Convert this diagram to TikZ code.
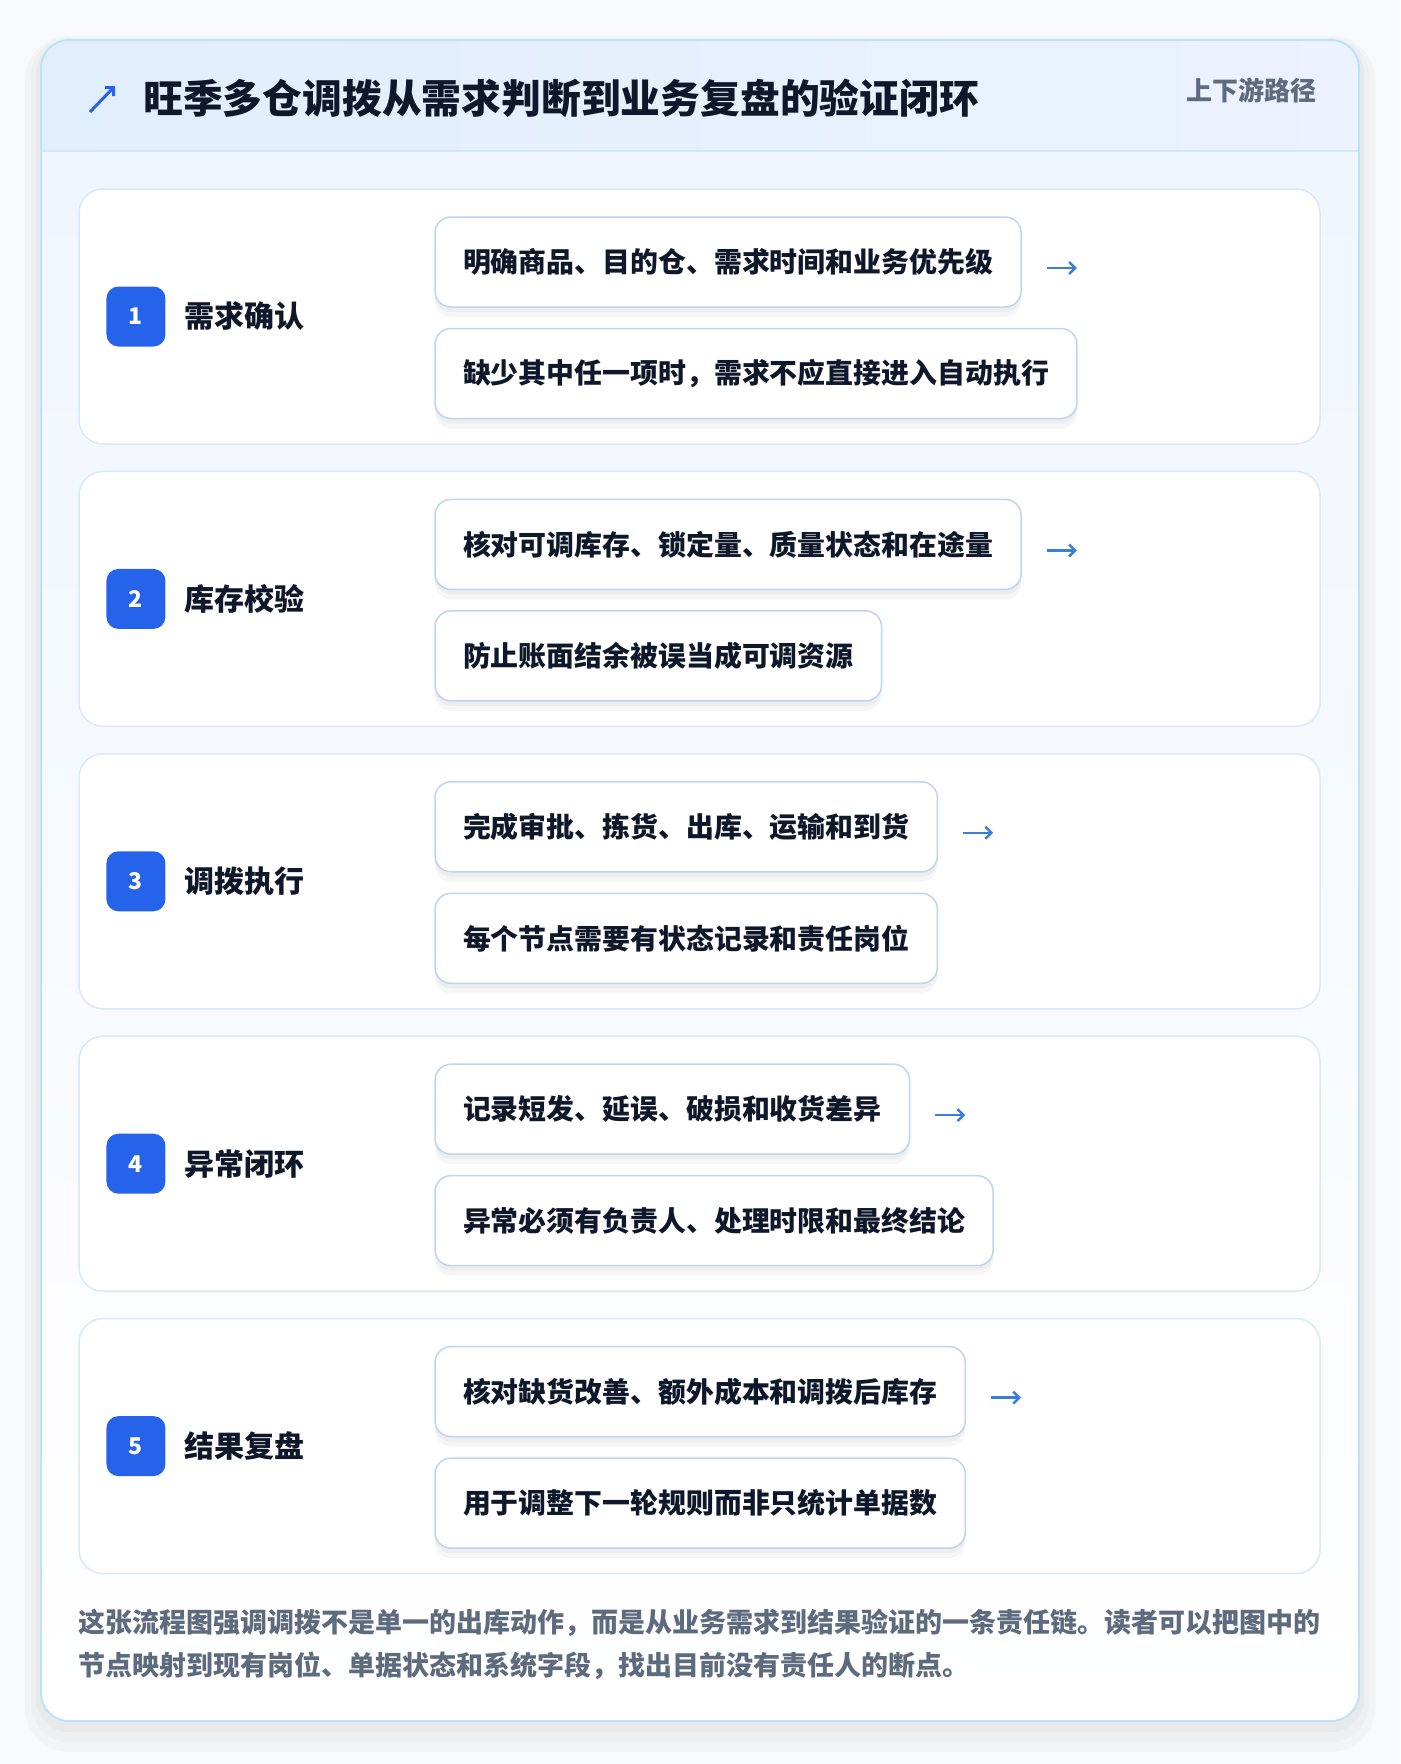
\documentclass[tikz,border=0pt]{standalone}
\usepackage{fontspec}
\setmainfont{Noto Sans CJK SC}
\usetikzlibrary{positioning,arrows.meta}

\definecolor{pagebg}{HTML}{F8F9FB}
\definecolor{cardline}{HTML}{BEE3F8}
\definecolor{headleft}{HTML}{E1EEFD}
\definecolor{headright}{HTML}{ECF2FE}
\definecolor{headline}{HTML}{D6E6FA}
\definecolor{bodytop}{HTML}{EFF6FE}
\definecolor{stageline}{HTML}{D9E8FA}
\definecolor{boxline}{HTML}{BDD5F3}
\definecolor{badgeblue}{HTML}{2563EB}
\definecolor{flowblue}{HTML}{3B7DDD}
\definecolor{ink}{HTML}{0F172A}
\definecolor{mutedink}{HTML}{5E6B7E}

\tikzset{
  stage/.style={draw=stageline, line width=1.5, fill=white, rounded corners=24,
    minimum width=1241, minimum height=255, inner sep=0},
  badge/.style={fill=badgeblue, rounded corners=12, minimum width=59, minimum height=60,
    inner sep=0, text=white, font=\fontsize{23}{23}\selectfont\bfseries},
  stagename/.style={anchor=west, inner sep=0, text=ink, font=\fontsize{30}{30}\selectfont\bfseries},
  stepbox/.style={draw=boxline, line width=1.5, fill=white, rounded corners=16,
    minimum height=90, inner xsep=28, inner ysep=0, text=ink, anchor=north west,
    font=\fontsize{27.9}{28}\selectfont\bfseries,
    preaction={draw=none, fill=black, fill opacity=0.035, transform canvas={yshift=-10pt}},
    preaction={draw=none, fill=black, fill opacity=0.035, transform canvas={yshift=-5pt}}},
  flow/.style={flowblue, line width=2.5, -{Straight Barb[length=6,width=12]}},
}

\begin{document}
\begin{tikzpicture}[x=1pt,y=-1pt]
\useasboundingbox (0,0) rectangle (1400,1764);
\fill[pagebg] (0,0) rectangle (1400,1764);
%\draw[step=50,gray!30,very thin] (0,0) grid (1400,1764); % layout grid

% soft shadow under the card
\fill[black, opacity=0.02, rounded corners=44] (25,36) rectangle (1375,1752);
\fill[black, opacity=0.02, rounded corners=38] (31,38) rectangle (1369,1742);
\fill[black, opacity=0.025, rounded corners=33] (36,40) rectangle (1364,1732);

% card with header band
\begin{scope}
\clip[rounded corners=28] (41,40) rectangle (1359,1721);
\shade[top color=bodytop, bottom color=white] (41,151) rectangle (1359,1721);
\shade[left color=headleft, right color=headright] (41,40) rectangle (1359,151);
\end{scope}
\draw[headline, line width=2] (41,151) -- (1359,151);
\draw[cardline, line width=2, rounded corners=28] (41,40) rectangle (1359,1721);

\coordinate (i0) at (90,112);
\coordinate (i1) at (115,86);
\draw[flow, line width=3, badgeblue] (i0) -- (i1);
\node[anchor=west, inner sep=0, text=ink, font=\fontsize{39.8}{40}\selectfont\bfseries] (title) at (143,98) {旺季多仓调拨从需求判断到业务复盘的验证闭环};
\node[anchor=east, inner sep=0, text=mutedink, font=\fontsize{26}{26}\selectfont\bfseries] (tag) at (1317,90) {上下游路径};

%--------------------------------------------------------
\node[stage] (s1) at (699.5,316.5) {};
\node[badge, right=28 of s1.west] (b1) {1};
\node[stagename, right=19 of b1] (n1) {需求确认};
\node[stepbox] (a1) at ([xshift=356pt,yshift=-28pt]s1.north west) {明确商品、目的仓、需求时间和业务优先级};
\node[stepbox] (c1) at ([yshift=-20pt]a1.south west) {缺少其中任一项时，需求不应直接进入自动执行};
\coordinate (f1) at ([xshift=25pt,yshift=-6pt]a1.east);
\coordinate (g1) at ([xshift=55pt,yshift=-6pt]a1.east);
\draw[flow] (f1) -- (g1);

%--------------------------------------------------------
\node[stage] (s2) at (699.5,598.9) {};
\node[badge, right=28 of s2.west] (b2) {2};
\node[stagename, right=19 of b2] (n2) {库存校验};
\node[stepbox] (a2) at ([xshift=356pt,yshift=-28pt]s2.north west) {核对可调库存、锁定量、质量状态和在途量};
\node[stepbox] (c2) at ([yshift=-20pt]a2.south west) {防止账面结余被误当成可调资源};
\coordinate (f2) at ([xshift=25pt,yshift=-6pt]a2.east);
\coordinate (g2) at ([xshift=55pt,yshift=-6pt]a2.east);
\draw[flow] (f2) -- (g2);

%--------------------------------------------------------
\node[stage] (s3) at (699.5,881.3) {};
\node[badge, right=28 of s3.west] (b3) {3};
\node[stagename, right=19 of b3] (n3) {调拨执行};
\node[stepbox] (a3) at ([xshift=356pt,yshift=-28pt]s3.north west) {完成审批、拣货、出库、运输和到货};
\node[stepbox] (c3) at ([yshift=-20pt]a3.south west) {每个节点需要有状态记录和责任岗位};
\coordinate (f3) at ([xshift=25pt,yshift=-6pt]a3.east);
\coordinate (g3) at ([xshift=55pt,yshift=-6pt]a3.east);
\draw[flow] (f3) -- (g3);

%--------------------------------------------------------
\node[stage] (s4) at (699.5,1163.7) {};
\node[badge, right=28 of s4.west] (b4) {4};
\node[stagename, right=19 of b4] (n4) {异常闭环};
\node[stepbox] (a4) at ([xshift=356pt,yshift=-28pt]s4.north west) {记录短发、延误、破损和收货差异};
\node[stepbox] (c4) at ([yshift=-20pt]a4.south west) {异常必须有负责人、处理时限和最终结论};
\coordinate (f4) at ([xshift=25pt,yshift=-6pt]a4.east);
\coordinate (g4) at ([xshift=55pt,yshift=-6pt]a4.east);
\draw[flow] (f4) -- (g4);

%--------------------------------------------------------
\node[stage] (s5) at (699.5,1446.1) {};
\node[badge, right=28 of s5.west] (b5) {5};
\node[stagename, right=19 of b5] (n5) {结果复盘};
\node[stepbox] (a5) at ([xshift=356pt,yshift=-28pt]s5.north west) {核对缺货改善、额外成本和调拨后库存};
\node[stepbox] (c5) at ([yshift=-20pt]a5.south west) {用于调整下一轮规则而非只统计单据数};
\coordinate (f5) at ([xshift=25pt,yshift=-6pt]a5.east);
\coordinate (g5) at ([xshift=55pt,yshift=-6pt]a5.east);
\draw[flow] (f5) -- (g5);

%--------------------------------------------------------
\node[anchor=north west, inner sep=0, align=left, text=mutedink, font=\fontsize{27}{43}\selectfont\bfseries] (note) at (78,1609) {这张流程图强调调拨不是单一的出库动作，而是从业务需求到结果验证的一条责任链。读者可以把图中的\\节点映射到现有岗位、单据状态和系统字段，找出目前没有责任人的断点。};
\end{tikzpicture}
\end{document}
